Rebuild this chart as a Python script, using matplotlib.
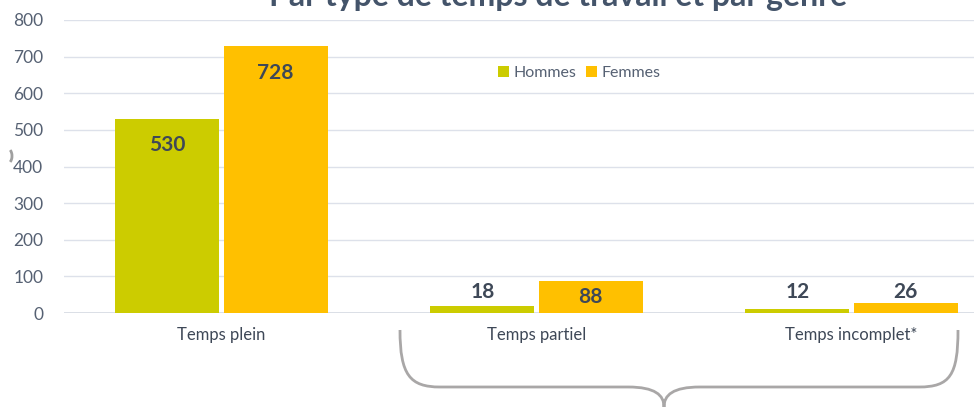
import matplotlib.pyplot as plt
from matplotlib.path import Path
from matplotlib.patches import PathPatch, Arc
import numpy as np

plt.rcParams['font.family'] = ['Lato', 'DejaVu Sans']

categories = ['Temps plein', 'Temps partiel', 'Temps incomplet*']
hommes = [530, 18, 12]
femmes = [728, 88, 26]
yticks = [0, 100, 200, 300, 400, 500, 600, 700, 800]

green = '#cccc00'
orange = '#ffc000'
txt = '#3e4857'
tick_col = '#566173'

fig = plt.figure(figsize=(9.74, 4.07), dpi=100)
ax = fig.add_axes([64 / 974, 94 / 407, 945 / 974, 293 / 407])

x = np.arange(len(categories))
w = 0.33
off = 0.172
b1 = ax.bar(x - off, hommes, w, color=green, label='Hommes', zorder=3)
b2 = ax.bar(x + off, femmes, w, color=orange, label='Femmes', zorder=3)

ax.set_xlim(-0.5, 2.5)
ax.set_ylim(0, 800)
ax.set_yticks(yticks)
ax.grid(axis='y', color='#dde1ea', linewidth=1, zorder=0)
for s in ax.spines.values():
    s.set_visible(False)
ax.tick_params(axis='y', length=0, pad=15, labelsize=12.5, labelcolor=tick_col)
ax.tick_params(axis='x', length=0, pad=10, labelsize=12, labelcolor=txt)
ax.set_xticks(x)
ax.set_xticklabels(categories)
ax.axhline(0, color='#d6dae3', linewidth=1.2, zorder=2)

# valeurs : dans la barre si elle est haute, au-dessus sinon
for bars, vals in ((b1, hommes), (b2, femmes)):
    for b, v in zip(bars, vals):
        cx = b.get_x() + b.get_width() / 2
        if v > 50:
            ypos = max(v - 72, v / 2)
        else:
            ypos = 56
        ax.text(cx, ypos, str(v), ha='center', va='center', fontsize=15,
                fontweight='bold', color=txt, zorder=4)

ax.legend(loc='upper left', bbox_to_anchor=(0.452, 0.865), ncol=2, frameon=False,
          fontsize=11.5, labelcolor=tick_col, handlelength=0.7, handleheight=0.7,
          handletextpad=0.3, columnspacing=0.6, borderaxespad=0)

fig.text(558 / 974, 1 - 6 / 407, 'Par type de temps de travail et par genre',
         ha='center', va='baseline', fontsize=23, fontweight='bold', color='#44546a')

# accolade sous temps partiel / incomplet
over = fig.add_axes([0, 0, 1, 1], facecolor='none')
over.set_xlim(0, 974)
over.set_ylim(407, 0)
over.axis('off')
verts = [(400, 330),
         (400, 375), (410, 387), (440, 387),
         (628, 387),
         (655, 387), (664, 395), (664, 407),
         (664, 395), (673, 387), (700, 387),
         (919, 387),
         (950, 387), (958, 375), (958, 330)]
codes = [Path.MOVETO,
         Path.CURVE4, Path.CURVE4, Path.CURVE4,
         Path.LINETO,
         Path.CURVE4, Path.CURVE4, Path.CURVE4,
         Path.CURVE4, Path.CURVE4, Path.CURVE4,
         Path.LINETO,
         Path.CURVE4, Path.CURVE4, Path.CURVE4]
over.add_patch(PathPatch(Path(verts, codes), fill=False, edgecolor='#a9a7a7', linewidth=2))
# petit reste de parenthèse à gauche
over.add_patch(Arc((8, 156), 8, 14, theta1=-70, theta2=70, color='#a0a0a0', linewidth=2))

fig.savefig('out.png', dpi=100)
